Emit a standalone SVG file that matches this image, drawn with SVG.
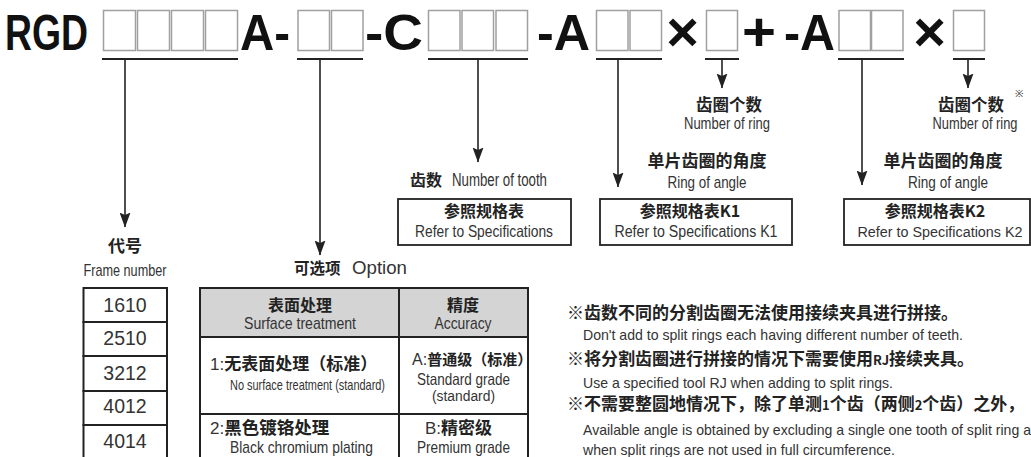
<svg xmlns="http://www.w3.org/2000/svg" width="1031" height="457" viewBox="0 0 1031 457">
<style>
.code{font-family:"Liberation Sans",Arial,sans-serif;font-weight:bold;font-size:50px;fill:#111}
.sym{font-family:"Liberation Sans",Arial,sans-serif;font-weight:bold;fill:#111;text-anchor:middle}
.slot{fill:#fff;stroke:#a0a0a0;stroke-width:1.5}
.ul{stroke:#222;stroke-width:2;fill:none}
.conn{stroke:#222;stroke-width:1.6;fill:none}
.cjk{font-family:"Noto Sans CJK SC","Noto Sans CJK JP",sans-serif;font-weight:bold;fill:#222}
.en{font-family:"Liberation Sans Narrow","Liberation Sans",Arial,sans-serif;font-weight:normal;fill:#333}
.mid{text-anchor:middle}
.box{fill:#fff;stroke:#222;stroke-width:1.8}
.cell{fill:#fff;stroke:#222;stroke-width:2}
.head{fill:#d4d4d4;stroke:#222;stroke-width:2}
.num{font-family:"Liberation Sans",Arial,sans-serif;font-size:19.5px;fill:#333;text-anchor:middle}
</style>
<defs>
<marker id="ah" markerUnits="userSpaceOnUse" markerWidth="15" markerHeight="11" viewBox="0 0 15 11" refX="14.5" refY="5.5" orient="auto">
<path d="M0,0 L15,5.5 L0,11 L2.5,5.5 z" fill="#222"/>
</marker>
</defs>
<rect width="1031" height="457" fill="#fff"/>

<g id="code">
<text class="code" x="5" y="49.5" textLength="83" lengthAdjust="spacingAndGlyphs">RGD</text>
<rect class="slot" x="103.5" y="10.5" width="32" height="40"/>
<rect class="slot" x="137.5" y="10.5" width="32" height="40"/>
<rect class="slot" x="171.5" y="10.5" width="32" height="40"/>
<rect class="slot" x="205.5" y="10.5" width="32" height="40"/>
<text class="code" x="240" y="49.5" textLength="50" lengthAdjust="spacingAndGlyphs">A-</text>
<rect class="slot" x="298" y="10.5" width="31.5" height="40"/>
<rect class="slot" x="331.5" y="10.5" width="31.5" height="40"/>
<text class="code" x="365" y="49.5" textLength="58" lengthAdjust="spacingAndGlyphs">-C</text>
<rect class="slot" x="428.5" y="10.5" width="31.5" height="40"/>
<rect class="slot" x="462" y="10.5" width="31.5" height="40"/>
<rect class="slot" x="496" y="10.5" width="31.5" height="40"/>
<text class="code" x="537" y="49.5" textLength="53" lengthAdjust="spacingAndGlyphs">-A</text>
<rect class="slot" x="596.5" y="10.5" width="31.5" height="40"/>
<rect class="slot" x="630" y="10.5" width="31.5" height="40"/>
<text class="sym" x="682.5" y="51" font-size="56">×</text>
<rect class="slot" x="706.5" y="10.5" width="31" height="40"/>
<text class="sym" x="759" y="50" font-size="54" textLength="34" lengthAdjust="spacingAndGlyphs">+</text>
<text class="code" x="784" y="49.5" textLength="51" lengthAdjust="spacingAndGlyphs">-A</text>
<rect class="slot" x="839" y="10.5" width="31.5" height="40"/>
<rect class="slot" x="871.5" y="10.5" width="31.5" height="40"/>
<text class="sym" x="929.5" y="51" font-size="56">×</text>
<rect class="slot" x="953.5" y="10.5" width="31" height="40"/>
</g>

<g id="connectors">
<path class="ul" d="M102,59 H238 M297,59 H363 M428,59 H528 M596,59 H662 M705,59 H739 M838,59 H904 M953,59 H985"/>
<path class="conn" marker-end="url(#ah)" d="M125,59 V227"/>
<path class="conn" marker-end="url(#ah)" d="M320,59 V255"/>
<path class="conn" marker-end="url(#ah)" d="M478,59 V162"/>
<path class="conn" marker-end="url(#ah)" d="M618,59 V187"/>
<path class="conn" marker-end="url(#ah)" d="M722,59 V88"/>
<path class="conn" marker-end="url(#ah)" d="M862,59 V185"/>
<path class="conn" marker-end="url(#ah)" d="M968,59 V88"/>
</g>

<g id="frame">
<text class="cjk mid" x="125" y="252" font-size="17">代号</text>
<text class="en mid" x="125" y="276" font-size="17" textLength="83" lengthAdjust="spacingAndGlyphs">Frame number</text>
<rect class="cell" x="83.5" y="288" width="83.5" height="34"/>
<rect class="cell" x="83.5" y="322" width="83.5" height="34"/>
<rect class="cell" x="83.5" y="356" width="83.5" height="35"/>
<rect class="cell" x="83.5" y="391" width="83.5" height="34"/>
<rect class="cell" x="83.5" y="425" width="83.5" height="40"/>
<text class="num" x="125" y="312">1610</text>
<text class="num" x="125" y="345">2510</text>
<text class="num" x="125" y="380">3212</text>
<text class="num" x="125" y="413">4012</text>
<text class="num" x="125" y="448">4014</text>
</g>

<g id="option">
<text class="cjk" x="294" y="274" font-size="15.5">可选项</text>
<text class="en" x="352" y="274" font-size="18" textLength="55" lengthAdjust="spacingAndGlyphs">Option</text>
<rect class="head" x="200" y="288" width="199" height="49"/>
<rect class="head" x="399" y="288" width="129" height="49"/>
<rect class="cell" x="200" y="337" width="199" height="77"/>
<rect class="cell" x="399" y="337" width="129" height="77"/>
<rect class="cell" x="200" y="414" width="199" height="60"/>
<rect class="cell" x="399" y="414" width="129" height="60"/>
<text class="cjk mid" x="300" y="311" font-size="16">表面处理</text>
<text class="en mid" x="300" y="329" font-size="17" textLength="112" lengthAdjust="spacingAndGlyphs">Surface treatment</text>
<text class="cjk mid" x="463" y="311" font-size="16">精度</text>
<text class="en mid" x="463" y="329" font-size="17" textLength="57" lengthAdjust="spacingAndGlyphs">Accuracy</text>
<text class="cjk" x="210" y="370" font-size="17"><tspan class="en" font-size="17">1:</tspan>无表面处理（标准）</text>
<text class="en" x="230" y="390" font-size="15" textLength="155" lengthAdjust="spacingAndGlyphs">No surface treatment (standard)</text>
<text class="cjk" x="412" y="365" font-size="15"><tspan class="en" font-size="16">A:</tspan>普通级（标准）</text>
<text class="en mid" x="463.5" y="385" font-size="16.5" textLength="93" lengthAdjust="spacingAndGlyphs">Standard grade</text>
<text class="en mid" x="463.5" y="401" font-size="14" textLength="63" lengthAdjust="spacingAndGlyphs">(standard)</text>
<text class="cjk" x="210" y="434" font-size="17.5"><tspan class="en" font-size="17">2:</tspan>黑色镀铬处理</text>
<text class="en" x="230" y="453" font-size="17" textLength="143" lengthAdjust="spacingAndGlyphs">Black chromium plating</text>
<text class="cjk" x="425" y="434" font-size="17"><tspan class="en" font-size="17">B:</tspan>精密级</text>
<text class="en mid" x="463.5" y="453" font-size="17" textLength="93" lengthAdjust="spacingAndGlyphs">Premium grade</text>
</g>

<g id="tooth">
<text class="cjk" x="410" y="186" font-size="16">齿数</text>
<text class="en" x="452" y="186" font-size="18" textLength="95" lengthAdjust="spacingAndGlyphs">Number of tooth</text>
<rect class="box" x="398" y="199" width="173" height="46"/>
<text class="cjk mid" x="484" y="217" font-size="16">参照规格表</text>
<text class="en mid" x="484" y="237" font-size="16.5" textLength="138" lengthAdjust="spacingAndGlyphs">Refer to Specifications</text>
</g>

<g id="ring1">
<text class="cjk mid" x="729" y="111" font-size="16.5">齿圈个数</text>
<text class="en mid" x="727" y="129" font-size="16.5" textLength="86" lengthAdjust="spacingAndGlyphs">Number of ring</text>
</g>

<g id="angle1">
<text class="cjk mid" x="707" y="167" font-size="17">单片齿圈的角度</text>
<text class="en mid" x="707" y="188" font-size="17" textLength="79" lengthAdjust="spacingAndGlyphs">Ring of  angle</text>
<rect class="box" x="600" y="199" width="192" height="46"/>
<text class="cjk mid" x="690" y="217" font-size="16">参照规格表K1</text>
<text class="en mid" x="696" y="237" font-size="16" textLength="163" lengthAdjust="spacingAndGlyphs">Refer to Specifications  K1</text>
</g>

<g id="ring2">
<text class="cjk mid" x="971" y="111" font-size="16.5">齿圈个数</text>
<text class="en" x="1015" y="97" font-size="10" fill="#777">※</text>
<text class="en mid" x="975" y="129" font-size="16" textLength="85" lengthAdjust="spacingAndGlyphs">Number of ring</text>
</g>

<g id="angle2">
<text class="cjk mid" x="943" y="167" font-size="17">单片齿圈的角度</text>
<text class="en mid" x="948" y="188" font-size="17" textLength="80" lengthAdjust="spacingAndGlyphs">Ring of  angle</text>
<rect class="box" x="844" y="199" width="186" height="46"/>
<text class="cjk mid" x="935" y="217" font-size="16">参照规格表K2</text>
<text class="en mid" x="940" y="237" font-size="15.5" textLength="165" lengthAdjust="spacingAndGlyphs">Refer to Specifications K2</text>
</g>

<g id="notes">
<text class="cjk" x="567" y="319" font-size="17">※齿数不同的分割齿圈无法使用接续夹具进行拼接。</text>
<text class="en" x="583" y="340" font-size="15" textLength="380" lengthAdjust="spacingAndGlyphs">Don't add to split rings each having different number of teeth.</text>
<text class="cjk" x="567" y="365" font-size="17">※将分割齿圈进行拼接的情况下需要使用<tspan font-size="13">RJ</tspan>接续夹具。</text>
<text class="en" x="583" y="388" font-size="15" textLength="310" lengthAdjust="spacingAndGlyphs">Use a specified tool RJ when adding to split rings.</text>
<text class="cjk" x="567" y="410" font-size="17">※不需要整圆地情况下，除了单测<tspan font-size="13">1</tspan>个齿（两侧<tspan font-size="13">2</tspan>个齿）之外，</text>
<text class="en" x="583" y="435" font-size="15" textLength="448" lengthAdjust="spacingAndGlyphs">Available angle is obtained by excluding a single one tooth of split ring a</text>
<text class="en" x="583" y="455" font-size="15" textLength="312" lengthAdjust="spacingAndGlyphs">when split rings are not used in full circumference.</text>
</g>
</svg>
